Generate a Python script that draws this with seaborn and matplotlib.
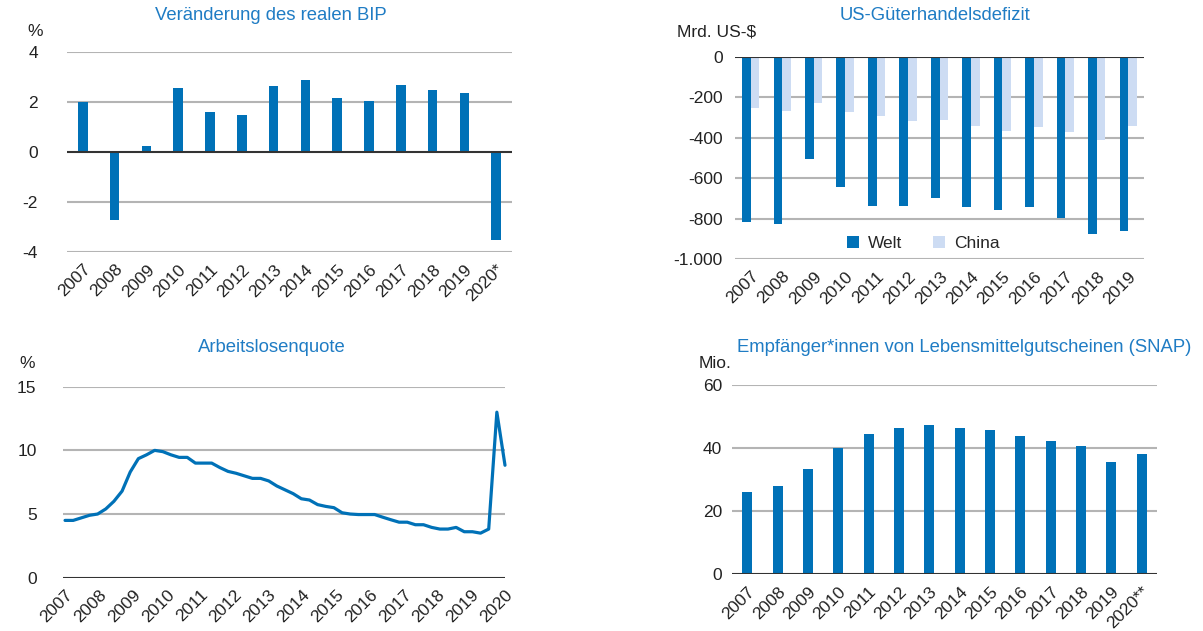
import numpy as np
import pandas as pd
import matplotlib
matplotlib.use("Agg")
import matplotlib.pyplot as plt
from matplotlib.ticker import FuncFormatter
import seaborn as sns

sns.set_style("white")
plt.rcParams['font.family'] = ['Liberation Sans', 'DejaVu Sans']

# data
bip_years = ['2007', '2008', '2009', '2010', '2011', '2012', '2013', '2014',
             '2015', '2016', '2017', '2018', '2019', '2020*']
bip_vals = [2.0, -2.7, 0.25, 2.55, 1.62, 1.47, 2.63, 2.9, 2.16, 2.06, 2.7, 2.5, 2.37, -3.5]

trade_years = ['2007', '2008', '2009', '2010', '2011', '2012', '2013', '2014',
               '2015', '2016', '2017', '2018', '2019']
welt = [-815, -829, -507, -646, -738, -738, -698, -745, -758, -745, -797, -876, -863]
china = [-255, -268, -229, -275, -295, -316, -315, -341, -367, -347, -374, -413, -341]

# quarterly unemployment 2007Q1 - 2020Q3
alq = [4.5, 4.5, 4.7, 4.9,
       5.0, 5.4, 6.0, 6.8,
       8.3, 9.35, 9.65, 10.0,
       9.9, 9.65, 9.45, 9.45,
       9.0, 9.0, 9.0, 8.65,
       8.35, 8.2, 8.0, 7.8,
       7.8, 7.6, 7.2, 6.9,
       6.6, 6.2, 6.1, 5.74,
       5.6, 5.5, 5.1, 5.0,
       4.96, 4.96, 4.96, 4.75,
       4.55, 4.36, 4.36, 4.16,
       4.16, 3.95, 3.82, 3.82,
       3.95, 3.61, 3.61, 3.5,
       3.82, 13.0, 8.83]
alq_labels = [str(y) for y in range(2007, 2021)]

snap_years = ['2007', '2008', '2009', '2010', '2011', '2012', '2013', '2014',
              '2015', '2016', '2017', '2018', '2019', '2020**']
snap_vals = [26.1, 27.9, 33.4, 40.2, 44.4, 46.6, 47.3, 46.6, 45.7, 43.9, 42.3, 40.6, 35.6, 38.1]

BLUE = '#0071b7'
LIGHT = '#cddcf3'
TITLE = '#1f7cc4'
GRID = '#b4b4b4'
TXT = '#222222'

W, H = 1203, 631
fig = plt.figure(figsize=(W / 100, H / 100), dpi=100)


def box(l, r, t, b):
    return [l / W, 1 - b / H, (r - l) / W, (b - t) / H]


def style(ax, ticks, zero, pad):
    ax.set_yticks(ticks)
    for s in ax.spines.values():
        s.set_visible(False)
    for t in ticks:
        if t == zero:
            ax.axhline(t, color='#333333', lw=1.5, zorder=3)
        else:
            ax.axhline(t, color=GRID, lw=1.5, zorder=0)
    ax.tick_params(axis='y', length=0, pad=pad, labelsize=12.5, labelcolor=TXT)
    ax.tick_params(axis='x', length=0, pad=7, labelsize=12.5, labelcolor=TXT)
    ax.set_xlabel('')
    ax.set_ylabel('')
    for lab in ax.get_xticklabels():
        lab.set_rotation(45)
        lab.set_ha('right')
        lab.set_rotation_mode('anchor')


def txt(x, y, s, color=TXT, size=12.5):
    fig.text(x / W, 1 - y / H, s, color=color, fontsize=size, ha='center', va='center')


# BIP
ax1 = fig.add_axes(box(67, 512, 52, 252))
sns.barplot(x=bip_years, y=bip_vals, color=BLUE, saturation=1, width=0.3,
            linewidth=0, ax=ax1)
ax1.set_ylim(-4, 4)
style(ax1, [-4, -2, 0, 2, 4], 0, 21)
ax1.yaxis.set_major_formatter(FuncFormatter(lambda v, p: f'{v:.0f}'))

# Handelsdefizit
trade = pd.DataFrame({'Jahr': trade_years * 2,
                      'Wert': welt + china,
                      'Region': ['Welt'] * len(welt) + ['China'] * len(china)})
ax2 = fig.add_axes(box(735, 1144, 56.7, 259))
sns.barplot(data=trade, x='Jahr', y='Wert', hue='Region', palette=[BLUE, LIGHT],
            saturation=1, width=0.55, linewidth=0, ax=ax2)
ax2.set_ylim(-1000, 0)
style(ax2, [-1000, -800, -600, -400, -200, 0], 0, 9)
ax2.yaxis.set_major_formatter(FuncFormatter(lambda v, p: f'{v:,.0f}'.replace(',', '.')))
ax2.legend(loc='center', bbox_to_anchor=(0.46, 0.075), ncol=2, frameon=False,
           fontsize=12.5, handlelength=0.7, handleheight=0.7, handletextpad=0.5,
           columnspacing=1.8)

# Arbeitslosenquote
ax3 = fig.add_axes(box(63, 505, 386.7, 577.7))
sns.lineplot(x=np.arange(len(alq)), y=alq, color=BLUE, linewidth=2.3, ax=ax3)
for ln in ax3.lines:
    ln.set_clip_on(False)
ax3.set_ylim(0, 15)
ax3.set_xlim(-0.25, len(alq) - 1)
ax3.set_xticks(np.linspace(0, len(alq) - 1, len(alq_labels)))
ax3.set_xticklabels(alq_labels)
style(ax3, [0, 5, 10, 15], 0, 19)

# SNAP
ax4 = fig.add_axes(box(732, 1157, 385.3, 574.3))
sns.barplot(x=snap_years, y=snap_vals, color=BLUE, saturation=1, width=0.33,
            linewidth=0, ax=ax4)
ax4.set_ylim(0, 60)
style(ax4, [0, 20, 40, 60], 0, 7)

# titles and units
txt(271, 16, 'Veränderung des realen BIP', TITLE, 13.3)
txt(935, 16, 'US-Güterhandelsdefizit', TITLE, 13.3)
txt(272, 348, 'Arbeitslosenquote', TITLE, 13.3)
txt(964, 348, 'Empfänger*innen von Lebensmittelgutscheinen (SNAP)', TITLE, 13.3)
txt(35, 32, '%')
txt(717, 32, 'Mrd. US-$')
txt(27, 363, '%')
txt(715, 363, 'Mio.')

fig.savefig('out.png', dpi=100)
